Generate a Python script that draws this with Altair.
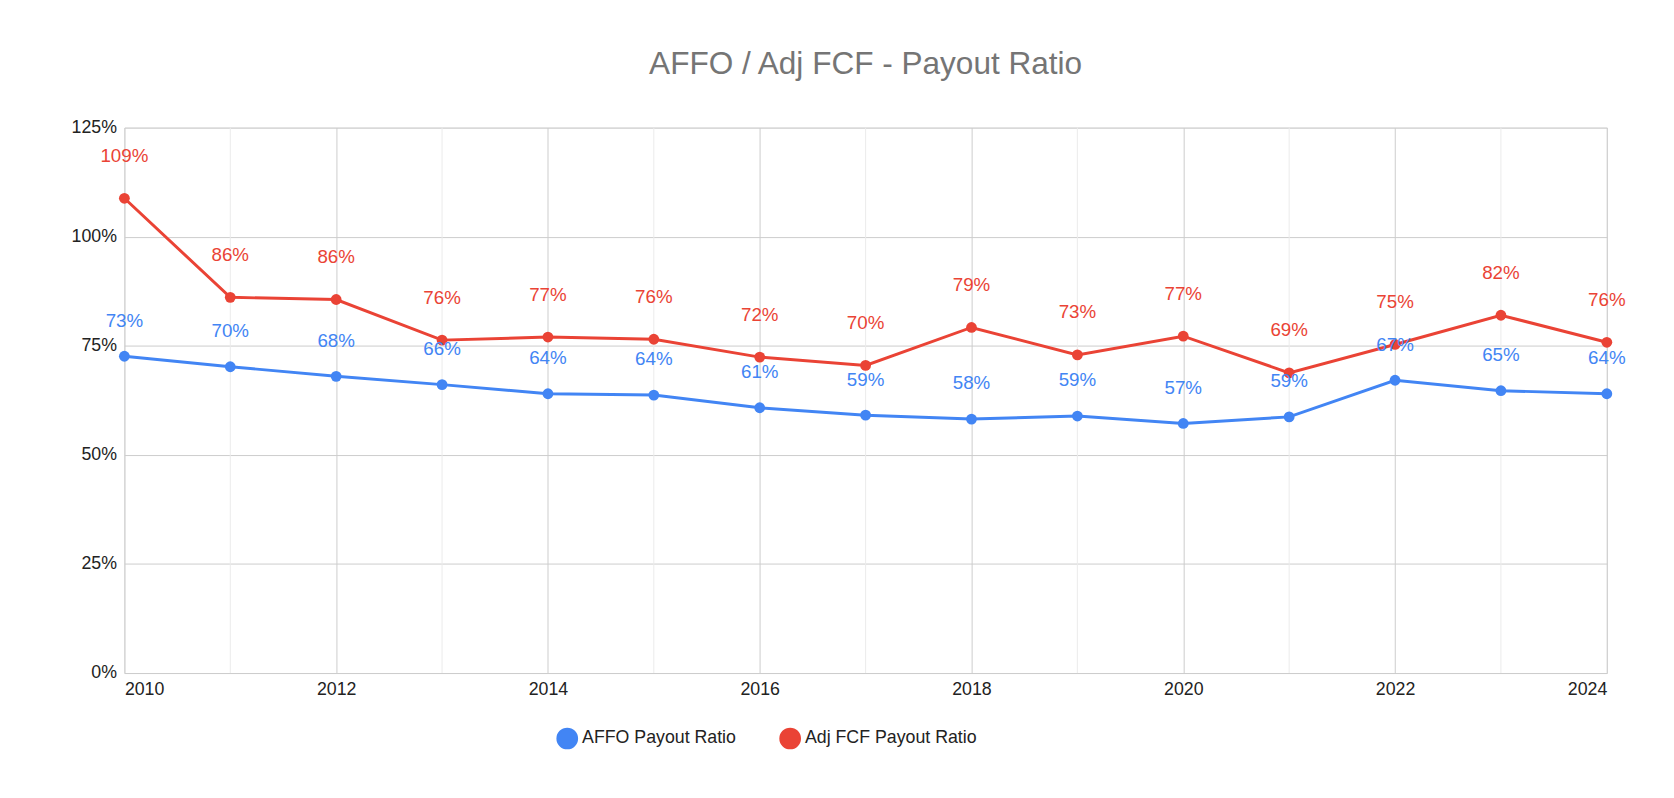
import altair as alt
import pandas as pd

years = list(range(2010, 2025))
affo = [72.6, 70.2, 68.0, 66.1, 64.0, 63.7, 60.8, 59.1, 58.2, 58.9, 57.2, 58.7, 67.1, 64.7, 64.0]
fcf = [108.8, 86.1, 85.6, 76.3, 77.0, 76.5, 72.4, 70.5, 79.2, 72.9, 77.2, 68.8, 75.3, 82.0, 75.8]
series = ["AFFO Payout Ratio", "Adj FCF Payout Ratio"]
colors = ["#4285F4", "#EA4335"]

rows = []
for y, a, f in zip(years, affo, fcf):
    rows.append({"year": y, "series": series[0], "v": a / 100, "lab": f"{round(a)}%"})
    rows.append({"year": y, "series": series[1], "v": f / 100, "lab": f"{round(f)}%"})
df = pd.DataFrame(rows)

xs = alt.Scale(domain=[2010, 2024], nice=False, zero=False)
x = alt.X("year:Q", scale=xs,
          axis=alt.Axis(values=list(range(2010, 2025, 2)), format="d", title=None,
                        labelFontSize=18, labelColor="#222", labelPadding=8,
                        domain=False, ticks=False, gridColor="#ccc"))
y = alt.Y("v:Q", scale=alt.Scale(domain=[0, 1.25]),
          axis=alt.Axis(values=[0, 0.25, 0.5, 0.75, 1.0, 1.25], format=".0%", title=None,
                        labelFontSize=18, labelColor="#222", labelPadding=8,
                        domain=False, ticks=False, gridColor="#ccc"))
color = alt.Color("series:N", scale=alt.Scale(domain=series, range=colors),
                  legend=alt.Legend(orient="none", legendX=438, legendY=608, direction="horizontal",
                                    title=None, labelFontSize=18, labelLimit=400,
                                    symbolType="circle", symbolSize=420, symbolOpacity=1,
                                    labelColor="#222", columnPadding=40))

minor = alt.Chart(pd.DataFrame({"year": list(range(2011, 2025, 2))})).mark_rule(
    color="#ebebeb").encode(x=alt.X("year:Q", scale=xs))
base = alt.Chart(df)
lines = base.mark_line(strokeWidth=3).encode(x=x, y=y, color=color)
pts = base.mark_circle(size=120, opacity=1).encode(x=x, y=y, color=alt.Color("series:N", legend=None, scale=alt.Scale(domain=series, range=colors)))
lab_a = base.transform_filter(alt.datum.series == series[0]).mark_text(
    dy=-36, fontSize=19, color=colors[0]).encode(x=x, y=y, text="lab:N")
lab_f = base.transform_filter(alt.datum.series == series[1]).mark_text(
    dy=-43, fontSize=19, color=colors[1]).encode(x=x, y=y, text="lab:N")

chart = alt.layer(minor, lines, pts, lab_a, lab_f).properties(
    width=1503, height=553,
    title=alt.TitleParams("AFFO / Adj FCF - Payout Ratio", fontSize=32, color="#757575",
                          fontWeight="normal", font="Arial", offset=38),
).configure_view(stroke=None).configure(font="Arial", padding={"left": 63, "top": 36, "right": 40, "bottom": 10})

chart.save("out.html", embed_options={"renderer": "svg", "actions": False})
